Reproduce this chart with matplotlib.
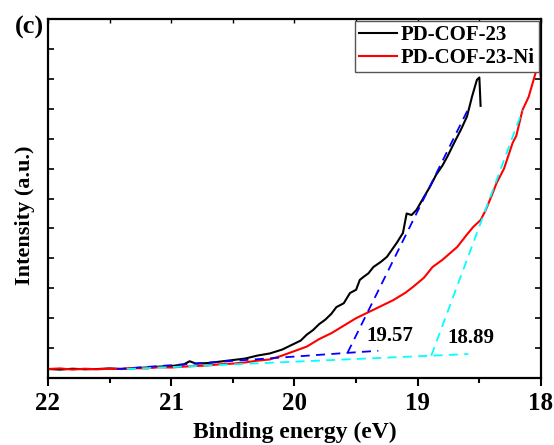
import matplotlib
matplotlib.use("Agg")
import matplotlib.pyplot as plt
from matplotlib.ticker import MultipleLocator

plt.rcParams['font.family'] = ['Liberation Serif', 'DejaVu Serif']
plt.rcParams['font.weight'] = 'bold'

# PD-COF-23 (black)
x_cof = [22.00, 21.90, 21.80, 21.70, 21.60, 21.50, 21.40, 21.30, 21.20, 21.10,
         21.00, 20.90, 20.85, 20.80, 20.70, 20.60, 20.50, 20.40, 20.30, 20.20,
         20.10, 20.00, 19.95, 19.90, 19.85, 19.80, 19.75, 19.70, 19.66, 19.60,
         19.55, 19.50, 19.47, 19.44, 19.40, 19.36, 19.30, 19.25, 19.17, 19.12,
         19.09, 19.05, 19.01, 18.95, 18.90, 18.85, 18.80, 18.76, 18.70, 18.65,
         18.60, 18.56, 18.52, 18.50, 18.49]
y_cof = [0.30, 0.28, 0.31, 0.29, 0.30, 0.32, 0.30, 0.33, 0.35, 0.38,
         0.40, 0.45, 0.56, 0.48, 0.50, 0.55, 0.60, 0.65, 0.75, 0.82,
         0.95, 1.15, 1.25, 1.45, 1.60, 1.80, 1.95, 2.15, 2.37, 2.50,
         2.84, 2.95, 3.28, 3.38, 3.50, 3.71, 3.88, 4.05, 4.52, 4.85,
         5.50, 5.45, 5.62, 6.05, 6.40, 6.80, 7.10, 7.40, 7.90, 8.30,
         8.75, 9.40, 9.97, 10.05, 9.10]

# PD-COF-23-Ni (red)
x_ni = [22.00, 21.90, 21.80, 21.70, 21.60, 21.50, 21.40, 21.30, 21.20, 21.10,
        21.00, 20.90, 20.80, 20.70, 20.60, 20.50, 20.40, 20.30, 20.20, 20.10,
        20.00, 19.90, 19.80, 19.70, 19.60, 19.50, 19.40, 19.30, 19.20, 19.10,
        19.04, 18.95, 18.88, 18.80, 18.68, 18.60, 18.55, 18.49, 18.45, 18.40,
        18.36, 18.30, 18.23, 18.20, 18.15, 18.10, 18.06, 18.03, 18.01, 18.00]
y_ni = [0.30, 0.32, 0.28, 0.31, 0.29, 0.31, 0.30, 0.33, 0.32, 0.36,
        0.35, 0.38, 0.40, 0.42, 0.46, 0.48, 0.52, 0.58, 0.62, 0.75,
        0.90, 1.05, 1.30, 1.50, 1.75, 2.00, 2.20, 2.40, 2.60, 2.85,
        3.04, 3.35, 3.71, 3.95, 4.38, 4.80, 5.05, 5.28, 5.60, 6.10,
        6.52, 7.00, 7.86, 8.10, 8.96, 9.40, 9.97, 10.40, 10.35, 10.00]

# Onset fitting lines
blue_x = [21.44, 19.57, 19.32]
blue_y = [0.30, 0.84, 0.91]
blue_fit_x = [19.57, 18.59]
blue_fit_y = [0.84, 9.00]
cyan_x = [21.36, 18.89, 18.59]
cyan_y = [0.30, 0.745, 0.80]
cyan_fit_x = [18.89, 18.15]
cyan_fit_y = [0.745, 8.95]

onset_labels = ["19.57", "18.89"]
onset_pos_x = [19.225, 18.57]
onset_pos_y = [1.42, 1.34]

fig = plt.figure(figsize=(5.54, 4.45), dpi=100)
ax = fig.add_axes([0.0866, 0.1506, 0.8899, 0.8064])

ax.plot(x_cof, y_cof, color='black', lw=1.5, label='PD-COF-23')
ax.plot(x_ni, y_ni, color='red', lw=1.5, label='PD-COF-23-Ni')

dash = (0, (5, 3.5))
ax.plot(blue_x, blue_y, color='blue', lw=1.3, linestyle=dash)
ax.plot(blue_fit_x, blue_fit_y, color='blue', lw=1.3, linestyle=dash)
ax.plot(cyan_x, cyan_y, color='cyan', lw=1.3, linestyle=dash)
ax.plot(cyan_fit_x, cyan_fit_y, color='cyan', lw=1.3, linestyle=dash)

for t, tx, ty in zip(onset_labels, onset_pos_x, onset_pos_y):
    ax.text(tx, ty, t, fontsize=15, fontweight='bold', ha='center', va='center')

ax.set_xlim(22, 18)
ax.set_ylim(0, 12)
ax.xaxis.set_major_locator(MultipleLocator(1))
ax.xaxis.set_minor_locator(MultipleLocator(0.5))
ax.yaxis.set_major_locator(MultipleLocator(1))
ax.set_yticklabels([])
ax.tick_params(axis='x', which='both', direction='out', top=False, width=1.5, labelsize=18)
ax.tick_params(axis='x', which='major', length=6, pad=4)
ax.tick_params(axis='x', which='minor', length=3.5)
ax.tick_params(axis='y', which='both', direction='in', right=True, length=4, width=1.2)
ax.tick_params(axis='y', labelleft=False)
secx = ax.secondary_xaxis('top')
secx.xaxis.set_major_locator(MultipleLocator(1))
secx.xaxis.set_minor_locator(MultipleLocator(0.5))
secx.tick_params(which='both', direction='in', length=3, width=1.0, labeltop=False)
secx.spines['top'].set_visible(False)
for lab in ax.get_xticklabels():
    lab.set_fontweight('bold')
for s in ax.spines.values():
    s.set_linewidth(1.6)

ax.set_xlabel('Binding energy (eV)', fontsize=17, fontweight='bold', labelpad=5)
ax.set_ylabel('Intensity (a.u.)', fontsize=16, fontweight='bold')
ax.yaxis.set_label_coords(-0.026, 0.454)

leg = ax.legend(loc='upper right', fontsize=15, fancybox=False, edgecolor='#555555',
                framealpha=1, borderaxespad=0.1, handlelength=1.8, handletextpad=0.2,
                borderpad=0.2, labelspacing=0.12)
leg.get_frame().set_linewidth(1.0)
for t in leg.get_texts():
    t.set_fontweight('bold')

fig.text(0.027, 0.939, '(c)', fontsize=19, fontweight='bold', ha='left', va='center')

fig.savefig('out.png', dpi=100)
